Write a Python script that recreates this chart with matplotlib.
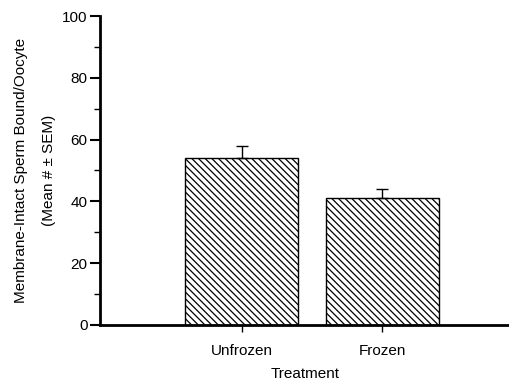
import matplotlib.pyplot as plt
import numpy as np

plt.rcParams['font.family'] = ['Liberation Sans', 'DejaVu Sans']
plt.rcParams['hatch.linewidth'] = 0.9

# data
treatments = ['Unfrozen', 'Frozen']
means = [54, 41]
sem = [4, 3]

fig = plt.figure(figsize=(5.1, 3.81), dpi=100)
ax = fig.add_axes([0.196, 0.147, 0.804, 0.811])

x = np.arange(len(treatments))
ax.bar(x, means, width=0.8, color='white', edgecolor='black', linewidth=1,
       hatch='\\\\\\\\\\', zorder=2)
ax.errorbar(x, means, yerr=[[0] * len(sem), sem], fmt='none', ecolor='black',
            elinewidth=1, capsize=4, capthick=1, zorder=3)

ax.set_xlim(-1.008, 1.908)
ax.set_ylim(0, 100)
ax.set_yticks([0, 20, 40, 60, 80, 100])
ax.set_yticks([10, 30, 50, 70, 90], minor=True)
ax.set_xticks(x)
ax.set_xticklabels(treatments)

for s in ['top', 'right']:
    ax.spines[s].set_visible(False)
for s in ['left', 'bottom']:
    ax.spines[s].set_linewidth(2)

ax.tick_params(axis='y', which='major', length=7, width=1.5, labelsize=11, pad=2)
ax.tick_params(axis='y', which='minor', length=4, width=1)
ax.tick_params(axis='x', length=5, width=1, labelsize=11, pad=9)

ax.set_xlabel('Treatment', fontsize=11, labelpad=6)
ax.set_ylabel('Membrane-Intact Sperm Bound/Oocyte\n(Mean # ± SEM)', fontsize=11,
              labelpad=4, linespacing=2.3)

fig.savefig('out.png', dpi=100)
